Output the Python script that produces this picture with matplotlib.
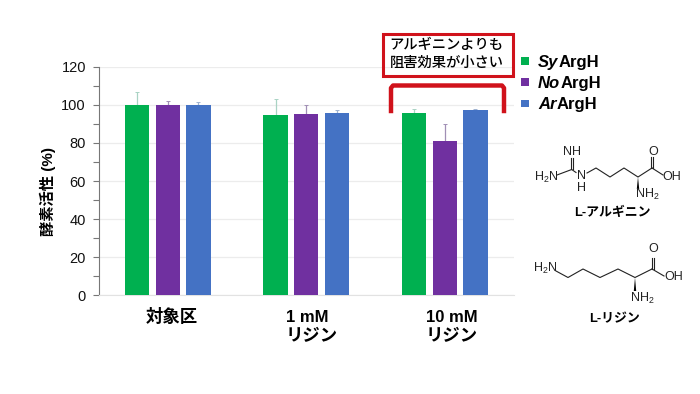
import matplotlib
matplotlib.use('Agg')
import matplotlib.pyplot as plt
import numpy as np
from matplotlib.patches import Polygon, Rectangle

plt.rcParams['font.family'] = ['Liberation Sans', 'Noto Sans CJK JP']
plt.rcParams['mathtext.fontset'] = 'custom'
plt.rcParams['mathtext.rm'] = 'Liberation Sans'
plt.rcParams['mathtext.default'] = 'rm'

# chart values
series_names = ['Sy', 'No', 'Ar']
series_colors = ['#00b050', '#7030a0', '#4472c4']
err_colors = ['#a9d3c4', '#a08fb5', '#9fb2d0']
sy_vals = [100, 94.6, 95.5]
no_vals = [100, 95.2, 81]
ar_vals = [100, 95.9, 97.3]
sy_err = [6.6, 8.4, 2.1]
no_err = [2, 4.5, 8.8]
ar_err = [1.7, 1.3, 0.7]
yticks = [0, 20, 40, 60, 80, 100, 120]

W, H = 700, 394
fig = plt.figure(figsize=(W / 100, H / 100), dpi=100)

ax = fig.add_axes([98.5 / W, 1 - 295.3 / H, 415.5 / W, 228.6 / H])
x = np.arange(3)
vals = [sy_vals, no_vals, ar_vals]
errs = [sy_err, no_err, ar_err]
for i in range(3):
    pos = x + (i - 1) * 0.2216
    ax.bar(pos, vals[i], 0.175, color=series_colors[i], zorder=3)
    ax.errorbar(pos, vals[i], yerr=[[0, 0, 0], errs[i]], fmt='none', ecolor=err_colors[i],
                elinewidth=0.9, capsize=1.5, capthick=0.7, zorder=2)

ax.set_xlim(-0.5, 2.5)
ax.set_ylim(0, 120)
ax.set_xticks([])
ax.set_yticks(yticks)
ax.set_yticks(range(10, 120, 20), minor=True)
ax.tick_params(axis='y', which='major', length=4, width=0.8, color='#777777', labelsize=10.5, pad=5, labelcolor='#111111')
ax.tick_params(axis='y', which='minor', length=4, width=0.8, color='#777777')
ax.grid(axis='y', which='major', color='#ececec', lw=0.9, zorder=0)
ax.set_axisbelow(True)
for s in ['top', 'right']:
    ax.spines[s].set_visible(False)
ax.spines['left'].set_color('#777777')
ax.spines['bottom'].set_color('#e2e2e2')

# everything else is placed in pixels of the figure
ov = fig.add_axes([0, 0, 1, 1], zorder=5)
ov.set_xlim(0, W)
ov.set_ylim(H, 0)
ov.axis('off')
ov.patch.set_alpha(0)

ov.text(48, 191, '酵素活性 (%)', rotation=90, ha='center', va='center', fontsize=11, fontweight='bold')
ov.text(171.5, 316.5, '対象区', ha='center', va='center', fontsize=12.5, fontweight='bold')
ov.text(307.5, 318, '1 mM', ha='center', va='center', fontsize=12, fontweight='bold')
ov.text(311.5, 337, 'リジン', ha='center', va='center', fontsize=12.5, fontweight='bold')
ov.text(452, 318, '10 mM', ha='center', va='center', fontsize=12, fontweight='bold')
ov.text(451.5, 337, 'リジン', ha='center', va='center', fontsize=12.5, fontweight='bold')

# callout
ov.add_patch(Rectangle((383, 33.5), 130, 42, fill=False, ec='#d0121b', lw=2.2))
ov.text(446.5, 45, 'アルギニンよりも', ha='center', va='center', fontsize=10.3, fontweight='medium')
ov.text(446.5, 63, '阻害効果が小さい', ha='center', va='center', fontsize=10.3, fontweight='medium')
ov.plot([391, 391, 393, 502, 504, 504], [111, 88, 85.5, 85.5, 88, 111], color='#d0121b', lw=3.2, solid_joinstyle='round')

# legend
renderer = fig.canvas.get_renderer()
for name, col, ly in zip(series_names, series_colors, [61, 82, 103.5]):
    ov.add_patch(Rectangle((521.3, ly - 3.7), 7.5, 7.5, color=col, lw=0))
    t = ov.text(538, ly + 5.5, name, style='italic', fontweight='bold', fontsize=12, va='baseline')
    end = t.get_window_extent(renderer).x1
    ov.text(end, ly + 5.5, 'ArgH', fontweight='bold', fontsize=12, va='baseline')

# L-arginine
lc = '#222222'
ov.plot([587, 596, 610, 624, 638, 652], [173, 168, 177, 168, 177, 168], color=lc, lw=0.8)
ov.plot([557, 571.7, 576], [175, 169.5, 172.5], color=lc, lw=0.8)
ov.plot([570.7, 570.7], [158, 169], color=lc, lw=0.8)
ov.plot([572.9, 572.9], [158, 169], color=lc, lw=0.8)
ov.plot([651.2, 651.2], [157, 168], color=lc, lw=0.8)
ov.plot([653.4, 653.4], [157, 168], color=lc, lw=0.8)
ov.plot([652, 663], [168, 175], color=lc, lw=0.8)
ov.add_patch(Polygon([(638, 177), (636.8, 189), (639.2, 189)], color='black', lw=0))
for s, tx, ty in [('NH', 571.7, 151.5), ('H$_2$N', 546.5, 177.5), ('N\nH', 581, 182),
                  ('O', 653, 152), ('OH', 671.5, 177), ('NH$_2$', 647, 194)]:
    ov.text(tx, ty, s, ha='center', va='center', fontsize=9, color=lc, linespacing=0.95)
ov.text(612, 213, 'L-アルギニン', ha='center', va='center', fontsize=9.3, fontweight='bold')

# L-lysine
ov.plot([556, 568, 583, 600, 618, 635, 652], [271, 277.5, 269, 277.5, 269, 277.5, 269], color=lc, lw=0.8)
ov.plot([651.5, 651.5], [258, 269], color=lc, lw=0.8)
ov.plot([653.7, 653.7], [258, 269], color=lc, lw=0.8)
ov.plot([652, 664], [269, 276], color=lc, lw=0.8)
ov.add_patch(Polygon([(635, 277.5), (633.8, 291), (636.2, 291)], color='black', lw=0))
for s, tx, ty in [('H$_2$N', 545, 268.5), ('O', 653, 249), ('OH', 674, 277.5), ('NH$_2$', 642.5, 298)]:
    ov.text(tx, ty, s, ha='center', va='center', fontsize=9, color=lc)
ov.text(615, 319, 'L-リジン', ha='center', va='center', fontsize=9.3, fontweight='bold')

fig.savefig('out.png', dpi=100)
